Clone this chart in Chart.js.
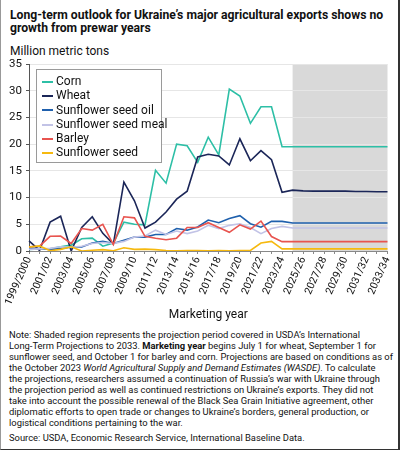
<!DOCTYPE html>
<html>
<head>
<meta charset="utf-8">
<script src="https://cdn.jsdelivr.net/npm/chart.js@4.4.1/dist/chart.umd.min.js"></script>
<style>
  html, body { margin: 0; padding: 0; background: #fff; }
  body { width: 400px; height: 450px; position: relative; overflow: hidden; font-family: Roboto, "Liberation Sans", sans-serif; color: #111; }
  .frame { position: absolute; left: 0; top: 0; width: 397px; height: 449px; border-left: 1px solid #999; border-right: 2px solid #333; border-bottom: 1px solid #333; box-sizing: content-box; pointer-events: none; }
  .title { position: absolute; left: 10px; top: 9px; font-weight: bold; font-size: 12.2px; line-height: 13px; white-space: nowrap; }
  .unit { position: absolute; left: 10px; top: 44px; font-size: 12px; }
  #wrap { position: absolute; left: 0; top: 0; width: 400px; height: 322px; }
  .legend { position: absolute; left: 36px; top: 69px; width: 126px; height: 94px; border: 1px solid #9a9a9a; background: #fff; font-size: 12px; padding: 4px 0 0 5px; box-sizing: border-box; }
  .legend div { height: 14.3px; line-height: 14.3px; white-space: nowrap; }
  .legend span.sw { display: inline-block; width: 11px; height: 2px; margin-right: 3px; vertical-align: middle; }
  .note { position: absolute; left: 9px; top: 328.5px; font-size: 9.4px; line-height: 11.05px; white-space: nowrap; }
  .source { position: absolute; left: 9px; top: 432px; font-size: 9.4px; line-height: 11px; }
</style>
</head>
<body>
<div class="title">Long-term outlook for Ukraine’s major agricultural exports shows no<br>growth from prewar years</div>
<div class="unit">Million metric tons</div>
<div id="wrap"><canvas id="chart"></canvas></div>
<div class="legend" id="legend"></div>
<div class="note">Note: Shaded region represents the projection period covered in USDA’s International<br>Long-Term Projections to 2033. <b>Marketing year</b> begins July 1 for wheat, September 1 for<br>sunflower seed, and October 1 for barley and corn. Projections are based on conditions as of<br>the October 2023 <i>World Agricultural Supply and Demand Estimates (WASDE)</i>. To calculate<br>the projections, researchers assumed a continuation of Russia’s war with Ukraine through<br>the projection period as well as continued restrictions on Ukraine’s exports. They did not<br>take into account the possible renewal of the Black Sea Grain Initiative agreement, other<br>diplomatic efforts to open trade or changes to Ukraine’s borders, general production, or<br>logistical conditions pertaining to the war.</div>
<div class="source">Source: USDA, Economic Research Service, International Baseline Data.</div>
<div class="frame"></div>
<script>
// Ukraine export outlook, million metric tons

const years = [
  '1999/2000', '2000/01', '2001/02', '2002/03', '2003/04', '2004/05', '2005/06', '2006/07',
  '2007/08', '2008/09', '2009/10', '2010/11', '2011/12', '2012/13', '2013/14', '2014/15',
  '2015/16', '2016/17', '2017/18', '2018/19', '2019/20', '2020/21', '2021/22', '2022/23',
  '2023/24', '2024/25', '2025/26', '2026/27', '2027/28', '2028/29', '2029/30', '2030/31',
  '2031/32', '2032/33', '2033/34'
];
const projectionStart = '2024/25';

const corn = [0.3, 0.4, 0.4, 0.8, 1.1, 2.3, 2.4, 0.9, 1.5, 5.4, 5.0, 4.9, 15.1, 12.7, 20.0, 19.7,
  16.6, 21.3, 18.0, 30.3, 29.0, 23.9, 27.0, 27.0, 19.5, 19.5, 19.5, 19.5, 19.5, 19.5, 19.5, 19.5, 19.5, 19.5, 19.5];
const wheat = [1.9, 0.1, 5.4, 6.5, 0.0, 4.4, 6.4, 3.3, 1.3, 12.9, 9.4, 4.3, 5.4, 7.3, 9.7, 11.2,
  17.6, 18.1, 17.8, 16.1, 21.0, 16.9, 18.8, 17.1, 11.0, 11.4, 11.25, 11.2, 11.2, 11.2, 11.2, 11.15, 11.15, 11.1, 11.1];
const sunOil = [0.55, 0.45, 0.3, 0.45, 0.75, 0.75, 1.5, 1.8, 1.4, 2.0, 2.6, 2.6, 3.1, 3.1, 4.2, 3.9,
  4.5, 5.8, 5.3, 6.1, 6.6, 5.1, 4.45, 5.55, 5.55, 5.25, 5.25, 5.25, 5.25, 5.25, 5.25, 5.25, 5.25, 5.25, 5.25];
const sunMeal = [0.3, 0.4, 0.5, 0.8, 0.7, 0.9, 1.4, 1.6, 1.4, 1.8, 2.6, 2.8, 3.9, 3.1, 3.75, 3.25,
  3.75, 4.8, 4.2, 4.8, 5.1, 4.4, 3.25, 4.2, 4.6, 4.3, 4.3, 4.3, 4.3, 4.3, 4.3, 4.3, 4.3, 4.3, 4.3];
const barley = [0.8, 0.9, 2.75, 2.8, 1.4, 4.2, 3.9, 5.0, 1.2, 6.4, 6.2, 2.75, 2.4, 2.1, 2.4, 4.4,
  4.4, 5.3, 4.4, 3.5, 4.9, 4.1, 5.6, 2.7, 1.75, 1.75, 1.75, 1.75, 1.75, 1.75, 1.75, 1.75, 1.75, 1.75, 1.75];
const sunSeed = [0.75, 0.95, 0.05, 0.3, 0.8, 0.0, 0.15, 0.25, 0.05, 0.6, 0.3, 0.35, 0.25, 0.1, 0.05, 0.1,
  0.1, 0.05, 0.1, 0.05, 0.1, 0.1, 1.5, 1.8, 0.4, 0.4, 0.4, 0.4, 0.4, 0.4, 0.4, 0.4, 0.4, 0.4, 0.4];

const yTicks = [0, 5, 10, 15, 20, 25, 30, 35];

const series = [
  { label: 'Corn', data: corn, color: '#2dbfa6' },
  { label: 'Wheat', data: wheat, color: '#1b2658' },
  { label: 'Sunflower seed oil', data: sunOil, color: '#1f60ad' },
  { label: 'Sunflower seed meal', data: sunMeal, color: '#c2c3e6' },
  { label: 'Barley', data: barley, color: '#e8544f' },
  { label: 'Sunflower seed', data: sunSeed, color: '#f6b90f' },
];

// HTML legend built from the series list
const legendEl = document.getElementById('legend');
series.forEach(s => {
  legendEl.innerHTML += `<div><span class="sw" style="background:${s.color}"></span>${s.label}</div>`;
});

// shaded projection period, drawn before grid lines
const shadePlugin = {
  id: 'shade',
  beforeDraw(chart) {
    const { ctx, chartArea, scales } = chart;
    const x0 = scales.x.getPixelForValue(years.indexOf(projectionStart));
    const x1 = scales.x.getPixelForValue(years.length - 1);
    ctx.save();
    ctx.fillStyle = '#d9d9d9';
    ctx.fillRect(x0, chartArea.top, x1 - x0, chartArea.bottom - chartArea.top);
    ctx.restore();
  }
};

new Chart(document.getElementById('chart'), {
  type: 'line',
  data: {
    labels: years,
    datasets: series.map(s => ({
      label: s.label, data: s.data, borderColor: s.color, backgroundColor: s.color,
      borderWidth: 1.6, pointRadius: 0, tension: 0, fill: false
    })).reverse()
  },
  options: {
    responsive: true, maintainAspectRatio: false, animation: false,
    layout: { padding: { top: 64, right: 12, left: 0, bottom: 0 } },
    plugins: { legend: { display: false }, tooltip: { enabled: false } },
    scales: {
      x: {
        offset: false,
        grid: { display: true, drawOnChartArea: false, drawTicks: true, tickLength: 3, color: '#888' },
        border: { color: '#888' },
        ticks: {
          autoSkip: false, minRotation: 66, maxRotation: 66, padding: 1,
          color: '#111', font: { family: 'Roboto', size: 10.5 },
          callback: (v, i) => i % 2 === 0 ? years[i] : ''
        },
        title: { display: true, text: 'Marketing year', color: '#111', font: { family: 'Roboto', size: 12 }, padding: { top: 2, bottom: 0 } },
        afterFit: s => { s.height = 71; }
      },
      y: {
        min: 0, max: 35,
        afterBuildTicks: s => { s.ticks = yTicks.map(v => ({ value: v })); },
        grid: { color: '#e6e6e6', tickLength: 3, tickColor: '#555' },
        border: { color: '#555' },
        ticks: { color: '#111', padding: 4, font: { family: 'Roboto', size: 11.5 } },
        afterFit: s => { s.width = 29; }
      }
    }
  },
  plugins: [shadePlugin]
});
</script>
</body>
</html>
